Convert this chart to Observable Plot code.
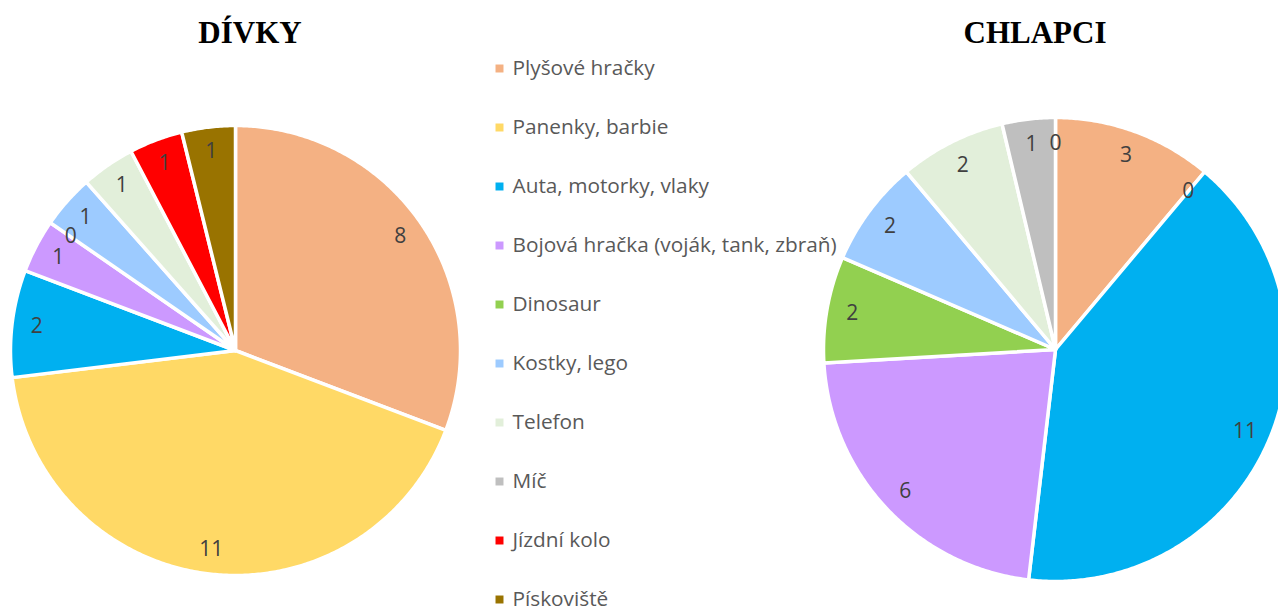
<!DOCTYPE html>
<html><head><meta charset="utf-8">
<script src="https://cdn.jsdelivr.net/npm/d3@7"></script>
<script src="https://cdn.jsdelivr.net/npm/@observablehq/plot@0.6"></script>
<style>
html,body{margin:0;padding:0;background:#fff;overflow:hidden}
#wrap{position:relative;width:1278px;height:611px;overflow:hidden;background:#fff}
.title{position:absolute;top:17px;width:300px;text-align:center;font-family:"Liberation Serif","Times New Roman",serif;font-weight:bold;font-size:31px;line-height:31px;color:#000}
.panel{position:absolute;top:0}
</style>
</head><body>
<div id="wrap">
  <div class="title" style="left:100px">DÍVKY</div>
  <div class="title" style="left:885px">CHLAPCI</div>
  <div class="panel" id="girls" style="left:0px"></div>
  <div class="panel" id="legend" style="left:480px"></div>
  <div class="panel" id="boys" style="left:790px"></div>
</div>
<script>
const categories = ["Plyšové hračky","Panenky, barbie","Auta, motorky, vlaky","Bojová hračka (voják, tank, zbraň)","Dinosaur","Kostky, lego","Telefon","Míč","Jízdní kolo","Pískoviště"];
const colors = ["#F4B183","#FFD966","#00B0F0","#CC99FF","#92D050","#9DCBFF","#E2EFDA","#BFBFBF","#FF0000","#997300"];
const girlsValues = [8,11,2,1,0,1,1,0,1,1];
const boysValues  = [3,0,11,6,2,2,2,1,0,0];
const girlsHiddenLabels = ["Míč"];
const boysHiddenLabels = ["Jízdní kolo"];

const FONT = "'Open Sans', 'Noto Sans', sans-serif";

function piePlot(values, hidden, cx, cy, R, left, width) {
  const slices = d3.pie().sort(null).value(d => d.v)(categories.map((c, i) => ({cat: c, v: values[i]})));
  const poly = [], labels = [];
  slices.forEach(s => {
    const cat = s.data.cat;
    if (s.endAngle > s.startAngle) {
      poly.push({cat, x: 0, y: 0});
      const n = Math.max(2, Math.ceil((s.endAngle - s.startAngle) / (Math.PI / 360)));
      for (let k = 0; k <= n; k++) {
        const a = s.startAngle + (s.endAngle - s.startAngle) * k / n;
        poly.push({cat, x: Math.sin(a), y: -Math.cos(a)});
      }
      poly.push({cat, x: 0, y: 0});
    }
    if (!hidden.includes(cat)) {
      const m = (s.startAngle + s.endAngle) / 2;
      labels.push({cat, text: String(s.data.v), x: 0.89 * Math.sin(m), y: -0.89 * Math.cos(m)});
    }
  });
  return Plot.plot({
    width, height: 611, margin: 0,
    x: {domain: [-1, 1], range: [cx - R - left, cx + R - left], axis: null},
    y: {domain: [-1, 1], range: [cy - R, cy + R], axis: null},
    color: {domain: categories, range: colors},
    marks: [
      Plot.line(poly, {x: "x", y: "y", z: "cat", fill: "cat", stroke: "white", strokeWidth: 3.5, strokeLinejoin: "round"}),
      Plot.text(labels, {x: "x", y: "y", text: "text", fill: "#404040", fontSize: 21, fontFamily: FONT})
    ]
  });
}

document.getElementById("girls").append(piePlot(girlsValues, girlsHiddenLabels, 235, 350, 225, 0, 480));
document.getElementById("boys").append(piePlot(boysValues, boysHiddenLabels, 1055, 349, 232, 790, 488));

const legend = Plot.plot({
  width: 380, height: 611, margin: 0,
  x: {domain: [0, 380], range: [0, 380], axis: null},
  y: {type: "point", domain: categories, range: [67, 600.5], padding: 0, axis: null},
  color: {domain: categories, range: colors},
  marks: [
    Plot.dot(categories, {x: () => 19, y: d => d, symbol: "square", fill: d => d, r: 4.5}),
    Plot.text(categories, {x: () => 32, y: d => d, text: d => d, textAnchor: "start", fill: "#595959", fontSize: 20.8, fontFamily: FONT})
  ]
});
document.getElementById("legend").append(legend);
</script>
</body></html>
